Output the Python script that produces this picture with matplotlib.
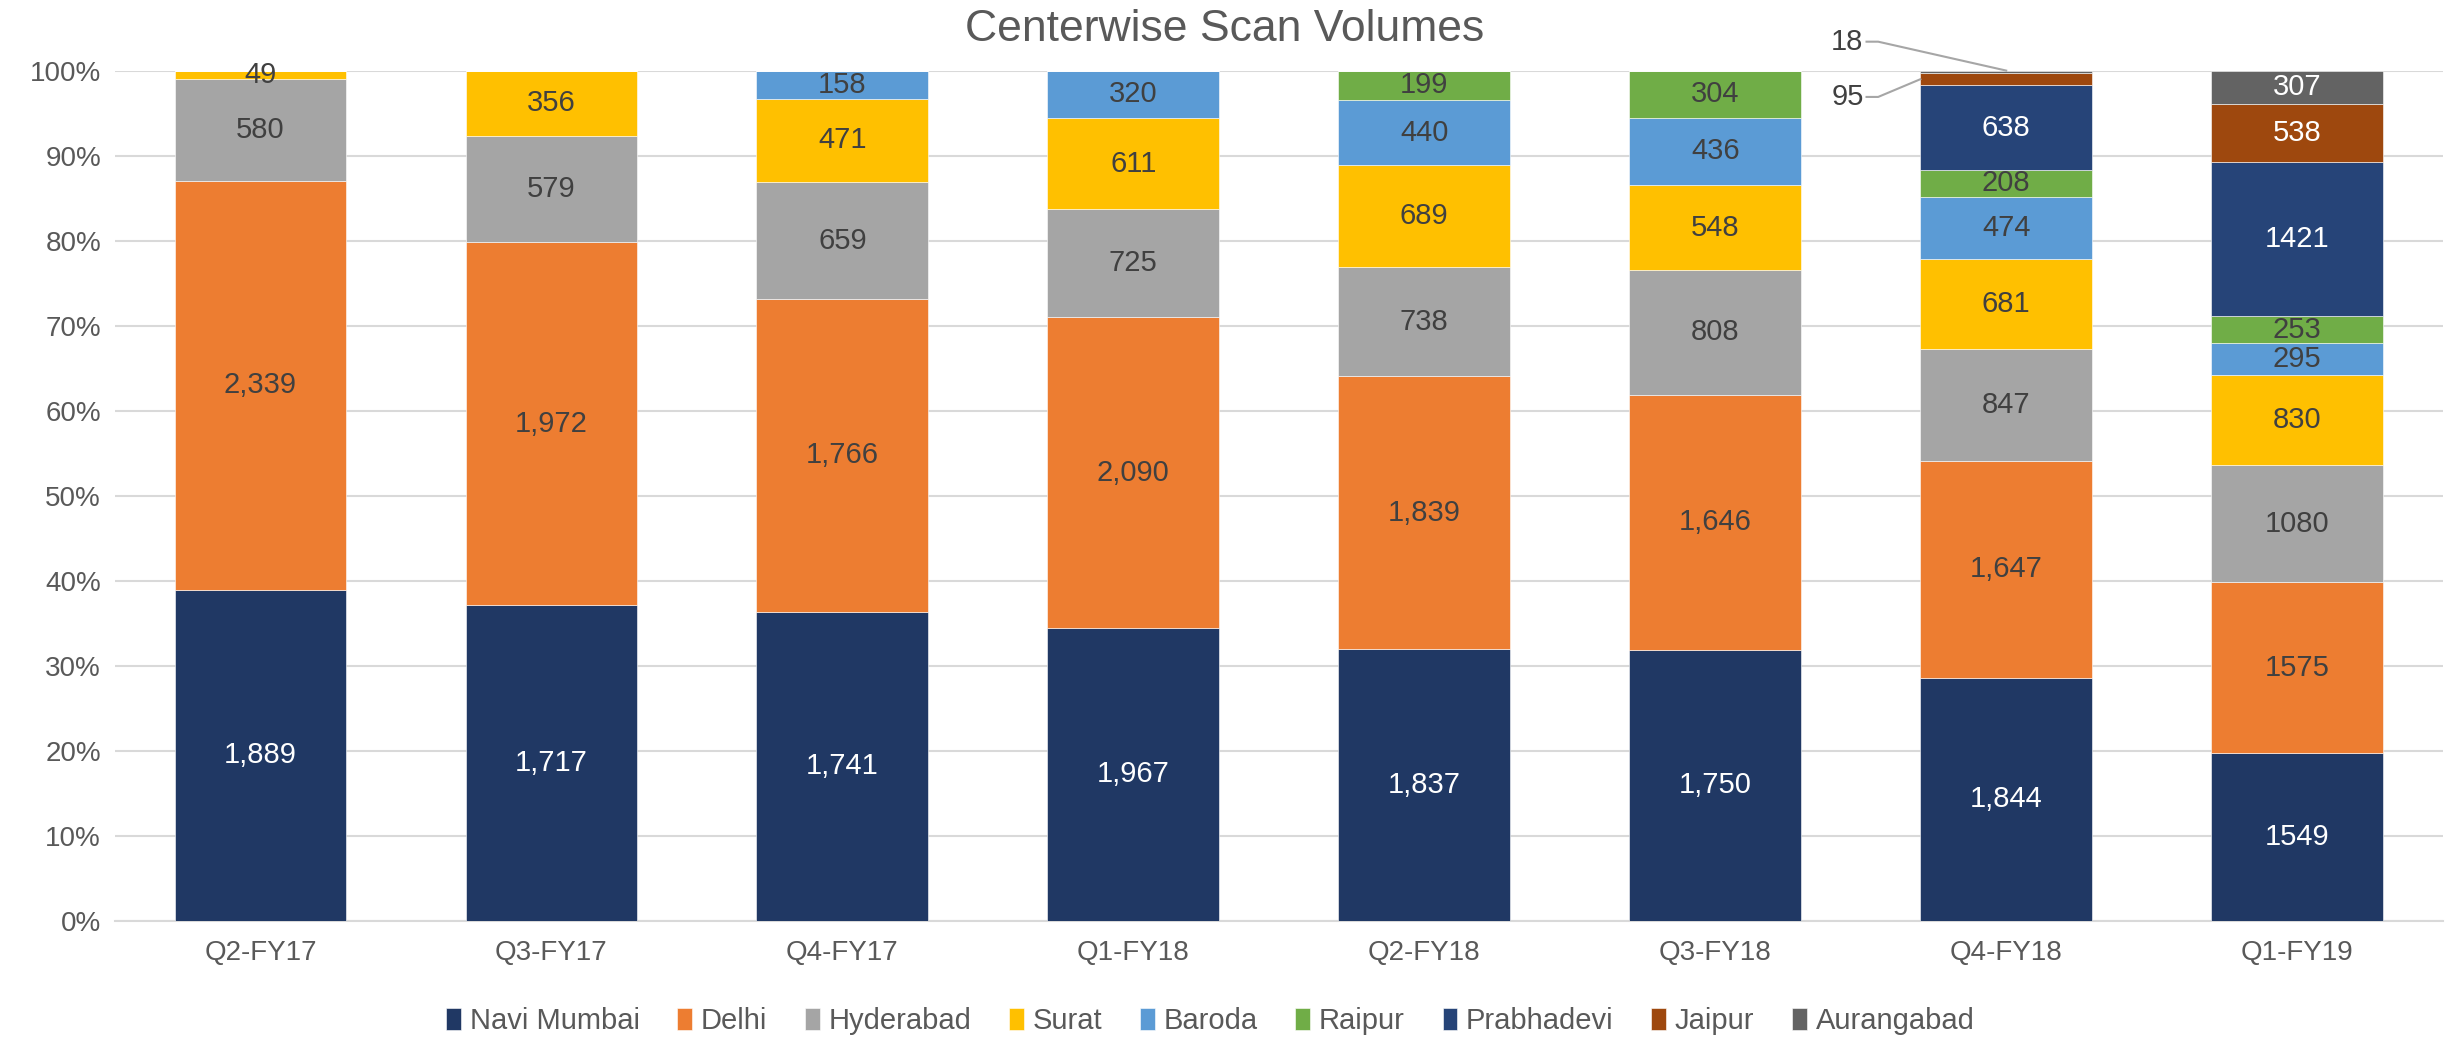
import numpy as np
import matplotlib
matplotlib.use("Agg")
import matplotlib.pyplot as plt

plt.rcParams['font.family'] = ['Liberation Sans', 'DejaVu Sans']

quarters = ["Q2-FY17", "Q3-FY17", "Q4-FY17", "Q1-FY18", "Q2-FY18", "Q3-FY18", "Q4-FY18", "Q1-FY19"]
centers = ["Navi Mumbai", "Delhi", "Hyderabad", "Surat", "Baroda", "Raipur", "Prabhadevi", "Jaipur", "Aurangabad"]

navi_mumbai = [1889, 1717, 1741, 1967, 1837, 1750, 1844, 1549]
delhi = [2339, 1972, 1766, 2090, 1839, 1646, 1647, 1575]
hyderabad = [580, 579, 659, 725, 738, 808, 847, 1080]
surat = [49, 356, 471, 611, 689, 548, 681, 830]
baroda = [0, 0, 158, 320, 440, 436, 474, 295]
raipur = [0, 0, 0, 0, 199, 304, 208, 253]
prabhadevi = [0, 0, 0, 0, 0, 0, 638, 1421]
jaipur = [0, 0, 0, 0, 0, 0, 95, 538]
aurangabad = [0, 0, 0, 0, 0, 0, 18, 307]

colors = ["#203864", "#ED7D31", "#A5A5A5", "#FFC000", "#5B9BD5",
          "#70AD47", "#264478", "#9E480E", "#636363"]
text_colors = ["white", "#404040", "#404040", "#404040", "#404040",
               "#404040", "white", "white", "white"]

series = [navi_mumbai, delhi, hyderabad, surat, baroda, raipur, prabhadevi, jaipur, aurangabad]
vals = np.array(series, dtype=float)
totals = vals.sum(axis=0)
pct = vals / totals

fig = plt.figure(figsize=(24.5, 10.38), dpi=100)
ax = fig.add_axes([0.0469, 0.113, 0.9501, 0.819])

x = np.arange(len(quarters))
width = 0.59
bottom = np.zeros(len(quarters))
for k, name in enumerate(centers):
    ax.bar(x, pct[k], width, bottom=bottom, color=colors[k], label=name,
           edgecolor="white", linewidth=0.4, zorder=3)
    for i in range(len(quarters)):
        v = vals[k, i]
        if v == 0:
            continue
        if i == 6 and name in ("Jaipur", "Aurangabad"):
            continue  # labelled outside with leader lines
        txt = "{:,}".format(int(v)) if i < 7 else str(int(v))
        ax.text(x[i], bottom[i] + pct[k, i] / 2, txt, ha="center", va="center",
                fontsize=21, color=text_colors[k], zorder=4)
    bottom += pct[k]

# outside labels for the thin slices of Q4-FY18
i = 6
top_jaipur = 1 - pct[8, i]
mid_jaipur = top_jaipur - pct[7, i] / 2
ax.text(x[i] - 0.49, 1.034, str(aurangabad[i]), ha="right", va="center",
        fontsize=21, color="#404040")
ax.plot([x[i] - 0.48, x[i] - 0.44, x[i]], [1.034, 1.034, 1.0],
        color="#A6A6A6", lw=1.5, clip_on=False, zorder=5)
ax.text(x[i] - 0.49, 0.969, str(jaipur[i]), ha="right", va="center",
        fontsize=21, color="#404040")
ax.plot([x[i] - 0.48, x[i] - 0.44, x[i] - width / 2], [0.969, 0.969, mid_jaipur],
        color="#A6A6A6", lw=1.5, clip_on=False, zorder=5)

ax.set_ylim(0, 1)
ax.set_xlim(-0.5, len(quarters) - 0.5)
ax.set_yticks(np.arange(0, 1.01, 0.1))
ax.set_yticklabels(["{}%".format(int(round(t * 100))) for t in np.arange(0, 1.01, 0.1)])
ax.set_xticks(x)
ax.set_xticklabels(quarters)
ax.tick_params(axis="both", length=0, labelsize=20, colors="#595959")
ax.tick_params(axis="x", pad=14)
ax.tick_params(axis="y", pad=10)
ax.grid(axis="y", color="#D9D9D9", lw=1.5, zorder=0)
for s in ["top", "right", "left"]:
    ax.spines[s].set_visible(False)
ax.spines["bottom"].set_color("#D9D9D9")
ax.spines["bottom"].set_linewidth(1.5)

fig.text(0.5, 0.972, "Centerwise Scan Volumes", ha="center", va="center",
         fontsize=32, color="#595959")

fig.legend(loc="center", bbox_to_anchor=(0.494, 0.016), ncol=9, frameon=False,
           fontsize=21, handlelength=0.5, handleheight=0.8, handletextpad=0.3,
           columnspacing=1.3, labelcolor="#595959")

fig.savefig("out.png", dpi=100)
